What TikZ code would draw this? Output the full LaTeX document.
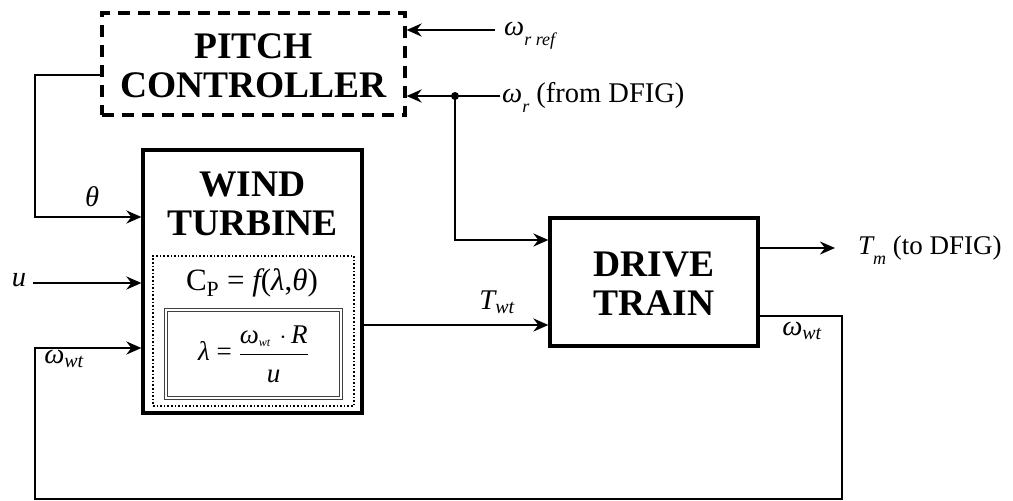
\documentclass[tikz,border=0pt]{standalone}
\usepackage{fontspec}
\setmainfont{Liberation Serif}
\usetikzlibrary{arrows.meta,calc}
\newcommand\ww[1]{{\itshape ω}\textsubscript{\itshape #1}}
\begin{document}
\begin{tikzpicture}[x=1pt,y=-1pt,
  lbl/.style={font=\fontsize{28.5}{30}\selectfont, inner sep=0pt},
  ttl/.style={font=\fontsize{37.5}{39}\selectfont\bfseries, align=center, inner sep=0pt},
  blk/.style={draw, line width=3.2pt, inner sep=0pt},
  arr/.style={-{Stealth[length=15pt,width=13pt,inset=5pt]}, line width=2.6pt},
  ln/.style={line width=2.6pt}]
\useasboundingbox (0,0) rectangle (1013,501);
% blocks
\node[blk, dashed, dash pattern=on 12pt off 8pt, minimum width=303pt, minimum height=102pt] (pc) at (253.5,64) {};
\node[ttl] (pcT) at (253.5,66) {PITCH\\CONTROLLER};
\node[blk, minimum width=219pt, minimum height=263pt] (wt) at (252.5,281.5) {};
\node[ttl] (wtT) at (252.5,204) {WIND\\TURBINE};
\node[draw, dotted, line width=1.6pt, minimum width=201pt, minimum height=150pt, inner sep=0pt] (cpb) at (253.5,331) {};
\node[font=\fontsize{31}{33}\selectfont, inner sep=0pt] (cp) at (252,283) {C\textsubscript{P} = {\itshape f}({\itshape λ},{\itshape θ})};
\node[draw=black!75, double, line width=0.8pt, double distance=1.6pt, minimum width=175pt, minimum height=88pt, inner sep=0pt] (lb) at (253.5,354) {};
\node[font=\fontsize{27}{29}\selectfont, inner sep=0pt] (lf) at (253.5,354) {{\itshape λ} = $\displaystyle\frac{\mbox{{\itshape ω}\textsubscript{\fontsize{12}{13}\selectfont\itshape wt}\,\,$\cdot$\,{\itshape R}}}{\rule{0pt}{27pt}\mbox{\itshape u}}$};
\node[blk, minimum width=208pt, minimum height=128pt] (dt) at (654,282) {};
\node[ttl] (dtT) at (654,284) {DRIVE\\TRAIN};
% coordinates
\coordinate (thA) at (35,75);
\coordinate (thB) at (35,217);
\coordinate (u0) at (33,283);
\coordinate (fbA) at (842,316);
\coordinate (fbB) at (842,499);
\coordinate (fbC) at (35,499);
\coordinate (fbD) at (35,348);
\coordinate (twY) at (0,325);
\coordinate (tm) at (835,248);
\coordinate (wr) at (500,96);
\coordinate (dot) at (455,96);
\coordinate (drY) at (0,240);
\coordinate (wrr) at (495,30);
% connectors
\draw[arr] (pc.west |- thA) -- (thA) -- (thB) -- (wt.west |- thB);
\draw[arr] (u0) -- (wt.west |- u0);
\draw[arr] (dt.east |- fbA) -- (fbA) -- (fbB) -- (fbC) -- (fbD) -- (wt.west |- fbD);
\draw[arr] (wt.east |- twY) -- (dt.west |- twY);
\draw[arr] (dt.east |- tm) -- (tm);
\draw[arr] (wr) -- (pc.east |- wr);
\draw[arr] (dot) -- (dot |- drY) -- (dt.west |- drY);
\fill (dot) circle (4pt);
\draw[arr] (wrr) -- (pc.east |- wrr);
% labels
\node[lbl] (lth) at (92,197) {\itshape θ};
\node[lbl] (lu) at (19,280) {\itshape u};
\node[lbl] (lwt1) at (64,359) {\ww{wt}};
\node[lbl] (ltw) at (497,302) {{\itshape T}\textsubscript{\itshape wt}};
\node[lbl] (lwt2) at (802,331) {\ww{wt}};
\node[lbl, font=\fontsize{27}{29}\selectfont, anchor=west] (ltm) at (858,250) {{\itshape T}\raisebox{-10pt}{\fontsize{18}{19}\selectfont\itshape m} (to DFIG)};
\node[lbl, anchor=west] (lwr) at (502,97) {{\itshape ω}\raisebox{-10pt}{\fontsize{18}{19}\selectfont\itshape r} (from DFIG)};
\node[lbl, anchor=west] (lwrr) at (504,36) {{\itshape ω}\raisebox{-10pt}{\fontsize{18}{19}\selectfont\itshape r ref}};
\end{tikzpicture}
\end{document}
